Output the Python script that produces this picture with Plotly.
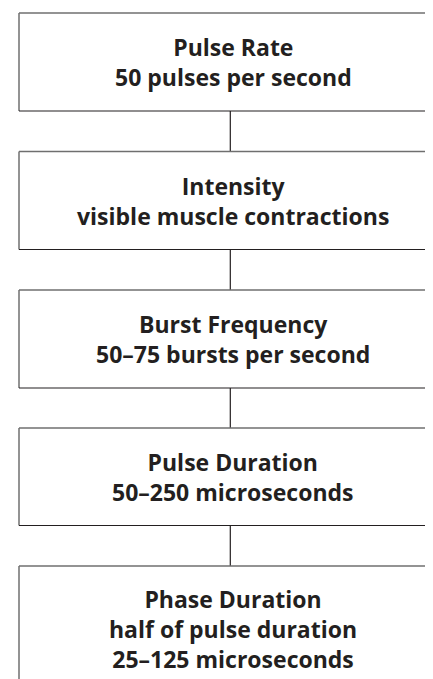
import plotly.graph_objects as go

titles = ["Pulse Rate", "Intensity", "Burst Frequency", "Pulse Duration", "Phase Duration"]
details = [
    ["50 pulses per second"],
    ["visible muscle contractions"],
    ["50–75 bursts per second"],
    ["50–250 microseconds"],
    ["half of pulse duration", "25–125 microseconds"],
]

W, H = 433, 679
box_left, box_right = 11, 440
box_tops = [5, 143.5, 282, 420, 558]
box_heights = [98, 98, 98, 97.5, 126]
conn_x = 222.3
text_x = 225

fig = go.Figure()
shapes = []
for i, top in enumerate(box_tops):
    bot = top + box_heights[i]
    shapes.append(dict(type="line", x0=box_left, x1=box_right, y0=top, y1=top,
                       line=dict(color="#6f6f6f", width=1.5)))
    shapes.append(dict(type="line", x0=box_left, x1=box_left, y0=top, y1=bot,
                       line=dict(color="#6f6f6f", width=1.5)))
    shapes.append(dict(type="line", x0=box_left, x1=box_right, y0=bot, y1=bot,
                       line=dict(color="#231f20", width=1.2)))
    if i < len(box_tops) - 1:
        shapes.append(dict(type="line", x0=conn_x, x1=conn_x, y0=bot, y1=box_tops[i + 1],
                           line=dict(color="#231f20", width=1.2)))
    lines = [titles[i]] + details[i]
    fig.add_annotation(x=text_x, y=top + box_heights[i] / 2, text="<br>".join(lines),
                       showarrow=False, xanchor="center", yanchor="middle",
                       font=dict(family="Open Sans", size=23, color="#231f20", weight="bold"))

fig.update_layout(
    width=W, height=H, margin=dict(l=0, r=0, t=0, b=0),
    paper_bgcolor="white", plot_bgcolor="white", shapes=shapes, showlegend=False,
    xaxis=dict(range=[0, W], visible=False, fixedrange=True),
    yaxis=dict(range=[H, 0], visible=False, fixedrange=True),
)
fig.write_html("out.html", config={"displayModeBar": False})
